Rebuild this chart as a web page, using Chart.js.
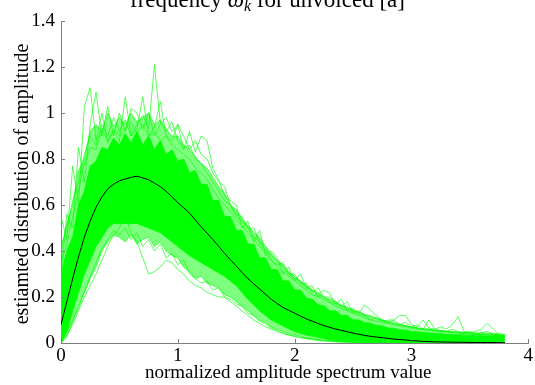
<!DOCTYPE html>
<html>
<head>
<meta charset="utf-8">
<script src="https://cdn.jsdelivr.net/npm/chart.js@4.4.1/dist/chart.umd.min.js"></script>
<style>
  html, body { margin: 0; padding: 0; background: #fff; overflow: hidden; }
  #wrap { width: 535px; height: 385px; }
</style>
</head>
<body>
<div id="wrap"><canvas id="c" width="535" height="385"></canvas></div>
<script>
// Sample positions along the normalized amplitude axis (step 0.05, 0 .. 3.8)
const xGrid = Array.from({ length: 77 }, (_, i) => Math.round(i * 5) / 100);

// Axis ticks and texts
const xTicks = [0, 1, 2, 3, 4];
const yTicks = [0, 0.2, 0.4, 0.6, 0.8, 1, 1.2, 1.4];
const xTitle = 'normalized amplitude spectrum value';
const yTitle = 'estiamted distribution of amplitude';

// Average estimated distribution (black curve)
const meanCurve = [
  0.08, 0.18, 0.28, 0.375, 0.46, 0.53, 0.59, 0.635, 0.67, 0.69,
  0.705, 0.713, 0.72, 0.725, 0.718, 0.71, 0.695, 0.68, 0.66, 0.636,
  0.61, 0.588, 0.565, 0.535, 0.505, 0.478, 0.45, 0.42, 0.39, 0.362,
  0.335, 0.307, 0.28, 0.257, 0.235, 0.212, 0.19, 0.172, 0.155, 0.142,
  0.13, 0.117, 0.105, 0.095, 0.085, 0.076, 0.068, 0.061, 0.055, 0.049,
  0.043, 0.038, 0.033, 0.029, 0.026, 0.023, 0.02, 0.017, 0.015, 0.013,
  0.01, 0.009, 0.007, 0.006, 0.005, 0.0045, 0.004, 0.0035, 0.003, 0.003,
  0.0025, 0.0025, 0.002, 0.002, 0.002, 0.0015, 0.0015
];

// Dense bundle of per-frame estimates: upper and lower edges of the solid core
const coreUpper = [
  0.3, 0.4, 0.46, 0.6, 0.66, 0.77, 0.79, 0.85, 0.84, 0.89,
  0.86, 0.91, 0.87, 0.92, 0.86, 0.9, 0.84, 0.88, 0.82, 0.84,
  0.79, 0.8, 0.74, 0.75, 0.69, 0.69, 0.62, 0.62, 0.55, 0.55,
  0.49, 0.49, 0.43, 0.43, 0.37, 0.37, 0.32, 0.32, 0.27, 0.27,
  0.23, 0.23, 0.195, 0.19, 0.165, 0.162, 0.14, 0.14, 0.12, 0.12,
  0.1, 0.1, 0.088, 0.086, 0.076, 0.074, 0.065, 0.064, 0.057, 0.056,
  0.05, 0.049, 0.045, 0.044, 0.042, 0.04, 0.038, 0.037, 0.035, 0.034,
  0.033, 0.032, 0.031, 0.03, 0.03, 0.029, 0.028
];
const coreLower = [
  0.0, 0.05, 0.14, 0.22, 0.3, 0.36, 0.42, 0.46, 0.5, 0.52,
  0.52, 0.52, 0.52, 0.52, 0.51, 0.5, 0.49, 0.48, 0.46, 0.44,
  0.42, 0.4, 0.38, 0.365, 0.35, 0.335, 0.32, 0.305, 0.29, 0.27,
  0.25, 0.22, 0.19, 0.165, 0.14, 0.12, 0.1, 0.087, 0.075, 0.062,
  0.05, 0.042, 0.035, 0.03, 0.025, 0.02, 0.015, 0.012, 0.01, 0.008,
  0.006, 0.005, 0.004, 0.003, 0.002, 0.002, 0.001, 0.001, 0, 0,
  0, 0, 0, 0, 0, 0, 0, 0, 0, 0,
  0, 0, 0, 0, 0, 0, 0
];

// Individual estimates that stand out above the bundle
const traceA = [
  0.42, 0.5, 0.62, 0.7, 0.82, 0.9, 0.86, 0.95, 0.9, 0.98,
  0.92, 0.97, 0.9, 0.95, 0.99, 0.93, 1.21, 0.96, 0.92, 0.96,
  0.88, 0.85, 0.86, 0.8, 0.78, 0.74, 0.7, 0.66, 0.62, 0.6,
  0.55, 0.53, 0.5, 0.46, 0.44, 0.4, 0.38, 0.36, 0.33, 0.3,
  0.28, 0.27, 0.24, 0.23, 0.21, 0.2, 0.18, 0.17, 0.16, 0.15,
  0.14, 0.13, 0.12, 0.12, 0.11, 0.1, 0.09, 0.09, 0.08, 0.075,
  0.07, 0.065, 0.06, 0.06, 0.055, 0.05, 0.05, 0.045, 0.045, 0.04,
  0.04, 0.038, 0.036, 0.035, 0.033, 0.032, 0.03
];
const traceB = [
  0.55, 0.45, 0.77, 0.6, 1.03, 1.11, 0.88, 1.0, 0.87, 0.92,
  0.88, 1.07, 0.9, 0.93, 1.07, 0.9, 0.94, 1.05, 0.9, 0.88,
  0.95, 0.84, 0.92, 0.83, 0.9, 0.88, 0.76, 0.71, 0.64, 0.62,
  0.6, 0.5, 0.53, 0.44, 0.49, 0.38, 0.4, 0.37, 0.3, 0.33,
  0.27, 0.3, 0.24, 0.25, 0.2, 0.23, 0.216, 0.17, 0.19, 0.14,
  0.15, 0.13, 0.165, 0.143, 0.12, 0.1, 0.09, 0.1, 0.12, 0.12,
  0.08, 0.07, 0.1, 0.065, 0.06, 0.07, 0.06, 0.08, 0.114, 0.05,
  0.045, 0.05, 0.06, 0.086, 0.06, 0.035, 0.03
];
const traceC = [
  0.4, 0.52, 0.6, 0.75, 0.8, 0.92, 0.95, 0.92, 1.0, 0.94,
  0.98, 0.95, 1.0, 0.96, 0.98, 1.0, 0.95, 0.97, 0.93, 0.9,
  0.9, 0.86, 0.84, 0.81, 0.78, 0.76, 0.72, 0.68, 0.65, 0.6,
  0.58, 0.54, 0.51, 0.48, 0.46, 0.42, 0.39, 0.36, 0.34, 0.31,
  0.29, 0.27, 0.25, 0.23, 0.22, 0.2, 0.19, 0.18, 0.165, 0.155,
  0.145, 0.135, 0.125, 0.115, 0.105, 0.1, 0.092, 0.085, 0.08, 0.075,
  0.07, 0.066, 0.062, 0.06, 0.056, 0.054, 0.052, 0.05, 0.048, 0.046,
  0.045, 0.044, 0.043, 0.042, 0.04, 0.04, 0.038
];
const traceD = [
  0.35, 0.43, 0.55, 0.66, 0.78, 0.85, 0.84, 0.93, 0.88, 0.93,
  0.9, 0.93, 0.96, 0.91, 0.95, 0.9, 0.92, 0.88, 0.9, 0.86,
  0.84, 0.82, 0.8, 0.76, 0.74, 0.71, 0.67, 0.63, 0.6, 0.57,
  0.54, 0.51, 0.48, 0.45, 0.42, 0.39, 0.36, 0.33, 0.31, 0.29,
  0.27, 0.25, 0.23, 0.21, 0.2, 0.19, 0.175, 0.16, 0.15, 0.14,
  0.13, 0.12, 0.11, 0.1, 0.095, 0.09, 0.085, 0.08, 0.075, 0.07,
  0.065, 0.06, 0.058, 0.055, 0.052, 0.05, 0.048, 0.046, 0.044, 0.042,
  0.04, 0.04, 0.038, 0.037, 0.036, 0.035, 0.033
];
const traceE = [
  0.3, 0.56, 0.5, 0.85, 0.7, 0.95, 1.09, 0.9, 1.03, 0.9,
  1.0, 0.92, 1.02, 1.0, 0.93, 1.0, 0.9, 0.95, 0.98, 0.92,
  0.95, 0.9, 0.84, 0.88, 0.82, 0.8, 0.74, 0.7, 0.68, 0.6,
  0.56, 0.55, 0.5, 0.5, 0.44, 0.42, 0.36, 0.34, 0.35, 0.3,
  0.3, 0.26, 0.26, 0.22, 0.24, 0.2, 0.2, 0.18, 0.16, 0.18,
  0.13, 0.14, 0.12, 0.1, 0.11, 0.09, 0.1, 0.1, 0.08, 0.09,
  0.07, 0.08, 0.06, 0.1, 0.06, 0.055, 0.05, 0.06, 0.05, 0.045,
  0.05, 0.04, 0.045, 0.05, 0.04, 0.035, 0.032
];

// Individual estimates that fall below the bundle
const lowA = [
  0.0, 0.03, 0.08, 0.14, 0.2, 0.25, 0.3, 0.36, 0.42, 0.47,
  0.5, 0.55, 0.48, 0.44, 0.37, 0.3, 0.31, 0.33, 0.36, 0.35,
  0.32, 0.3, 0.27, 0.25, 0.24, 0.22, 0.21, 0.2, 0.2, 0.18,
  0.16, 0.14, 0.12, 0.1, 0.085, 0.07, 0.06, 0.05, 0.045, 0.035,
  0.03, 0.025, 0.02, 0.018, 0.015, 0.012, 0.01, 0.008, 0.006, 0.005,
  0.004, 0.003, 0.003, 0.002, 0.002, 0.001, 0.001, 0, 0, 0,
  0, 0, 0, 0, 0, 0, 0, 0, 0, 0,
  0, 0, 0, 0, 0, 0, 0
];
const lowB = [
  0.02, 0.05, 0.1, 0.15, 0.22, 0.29, 0.35, 0.41, 0.45, 0.49,
  0.47, 0.5, 0.45, 0.48, 0.42, 0.45, 0.4, 0.43, 0.37, 0.39,
  0.34, 0.36, 0.3, 0.28, 0.26, 0.27, 0.23, 0.24, 0.2, 0.19,
  0.17, 0.16, 0.13, 0.12, 0.095, 0.085, 0.065, 0.055, 0.04, 0.035,
  0.028, 0.022, 0.018, 0.014, 0.011, 0.009, 0.007, 0.005, 0.004, 0.003,
  0.003, 0.002, 0.002, 0.001, 0.001, 0, 0, 0, 0, 0,
  0, 0, 0, 0, 0, 0, 0, 0, 0, 0,
  0, 0, 0, 0, 0, 0, 0
];
const lowC = [
  0.0, 0.03, 0.09, 0.16, 0.22, 0.28, 0.33, 0.4, 0.44, 0.47,
  0.46, 0.44, 0.47, 0.43, 0.45, 0.46, 0.42, 0.44, 0.4, 0.38,
  0.37, 0.33, 0.31, 0.28, 0.29, 0.26, 0.25, 0.24, 0.21, 0.2,
  0.18, 0.16, 0.14, 0.12, 0.1, 0.09, 0.07, 0.06, 0.05, 0.04,
  0.035, 0.03, 0.022, 0.018, 0.014, 0.011, 0.009, 0.007, 0.005, 0.004,
  0.003, 0.003, 0.002, 0.002, 0.001, 0.001, 0, 0, 0, 0,
  0, 0, 0, 0, 0, 0, 0, 0, 0, 0,
  0, 0, 0, 0, 0, 0, 0
];

const SERIF = "'Liberation Serif', 'Times New Roman', serif";
const GREEN = '#00ff00';
const GREEN_LINE = 'rgba(0,255,0,0.65)';
const GREEN_HAZE = 'rgba(0,255,0,0.5)';
const AXIS_GRAY = '#7f7f7f';

const toPoints = arr => arr.map((y, i) => ({ x: xGrid[i], y }));

const lineDefaults = { pointRadius: 0, tension: 0, fill: false };

const datasets = [
  // 0: average curve, on top
  { ...lineDefaults, label: 'mean', data: toPoints(meanCurve), borderColor: '#000', borderWidth: 1, order: 0 },
  // 1: solid core of the bundle, filled down to dataset 2
  { ...lineDefaults, label: 'core upper', data: toPoints(coreUpper), borderColor: GREEN, borderWidth: 1,
    backgroundColor: GREEN, fill: 2, order: 1 },
  // 2
  { ...lineDefaults, label: 'core lower', data: toPoints(coreLower), borderColor: GREEN, borderWidth: 1, order: 2 },
  // 3: thinner spread above the core
  { ...lineDefaults, label: 'trace C', data: toPoints(traceC), borderColor: GREEN_LINE, borderWidth: 1,
    backgroundColor: GREEN_HAZE, fill: 1, order: 4 },
  // 4: thinner spread below the core
  { ...lineDefaults, label: 'low C', data: toPoints(lowC), borderColor: GREEN_LINE, borderWidth: 1,
    backgroundColor: GREEN_HAZE, fill: 2, order: 4 },
  { ...lineDefaults, label: 'trace A', data: toPoints(traceA), borderColor: GREEN_LINE, borderWidth: 1, order: 3 },
  { ...lineDefaults, label: 'trace B', data: toPoints(traceB), borderColor: GREEN_LINE, borderWidth: 1, order: 3 },
  { ...lineDefaults, label: 'trace D', data: toPoints(traceD), borderColor: GREEN_LINE, borderWidth: 1, order: 3 },
  { ...lineDefaults, label: 'trace E', data: toPoints(traceE), borderColor: GREEN_LINE, borderWidth: 1, order: 3 },
  { ...lineDefaults, label: 'low A', data: toPoints(lowA), borderColor: GREEN_LINE, borderWidth: 1, order: 3 },
  { ...lineDefaults, label: 'low B', data: toPoints(lowB), borderColor: GREEN_LINE, borderWidth: 1, order: 3 }
];

// Title, axis titles and inward tick marks
const decorations = {
  id: 'decorations',
  afterDraw(chart) {
    const { ctx, chartArea: a, scales } = chart;
    ctx.save();

    // inward ticks
    ctx.strokeStyle = AXIS_GRAY;
    ctx.lineWidth = 1;
    ctx.beginPath();
    yTicks.forEach(v => {
      const py = Math.round(scales.y.getPixelForValue(v)) + 0.5;
      ctx.moveTo(a.left, py);
      ctx.lineTo(a.left + 4, py);
    });
    xTicks.forEach(v => {
      const px = Math.round(scales.x.getPixelForValue(v)) + 0.5;
      ctx.moveTo(px, a.bottom);
      ctx.lineTo(px, a.bottom - 4);
    });
    ctx.stroke();

    ctx.fillStyle = '#000';
    ctx.textAlign = 'left';
    ctx.textBaseline = 'alphabetic';

    // title: frequency ω_k for unvoiced [a]
    const T = 23;
    const base = 7;
    let x = 130;
    ctx.font = `${T}px ${SERIF}`;
    ctx.fillText('frequency ', x, base);
    x += ctx.measureText('frequency ').width;
    ctx.font = `italic ${T}px ${SERIF}`;
    ctx.fillText('\u03C9', x, base);
    x += ctx.measureText('\u03C9').width;
    ctx.font = `italic 16px ${SERIF}`;
    ctx.fillText('k', x, base + 4);
    x += ctx.measureText('k').width;
    ctx.font = `${T}px ${SERIF}`;
    ctx.fillText(' for unvoiced [a]', x, base);

    // x axis title
    ctx.font = `19px ${SERIF}`;
    ctx.fillText(xTitle, 145, 378);

    // y axis title
    ctx.font = `20px ${SERIF}`;
    ctx.translate(28, 184);
    ctx.rotate(-Math.PI / 2);
    ctx.textAlign = 'center';
    ctx.fillText(yTitle, 0, 0);

    ctx.restore();
  }
};

const fmt = v => String(+Number(v).toFixed(1));

new Chart(document.getElementById('c'), {
  type: 'line',
  data: { datasets },
  options: {
    responsive: false,
    animation: false,
    devicePixelRatio: 1,
    layout: { padding: { top: 21, right: 6, left: 0, bottom: 0 } },
    plugins: { legend: { display: false }, tooltip: { enabled: false }, title: { display: false } },
    scales: {
      x: {
        type: 'linear',
        min: 0, max: 4,
        afterFit: s => { s.height = 42; },
        afterBuildTicks: s => { s.ticks = xTicks.map(v => ({ value: v })); },
        grid: { display: false, drawTicks: false },
        border: { display: true, color: AXIS_GRAY, width: 1 },
        ticks: { color: '#000', font: { family: SERIF, size: 19 }, padding: 2, maxRotation: 0, callback: fmt }
      },
      y: {
        type: 'linear',
        min: 0, max: 1.4,
        afterFit: s => { s.width = 61; },
        afterBuildTicks: s => { s.ticks = yTicks.map(v => ({ value: v })); },
        grid: { display: false, drawTicks: false },
        border: { display: true, color: AXIS_GRAY, width: 1 },
        ticks: { color: '#000', font: { family: SERIF, size: 19 }, padding: 6, callback: fmt }
      }
    }
  },
  plugins: [decorations]
});
</script>
</body>
</html>
